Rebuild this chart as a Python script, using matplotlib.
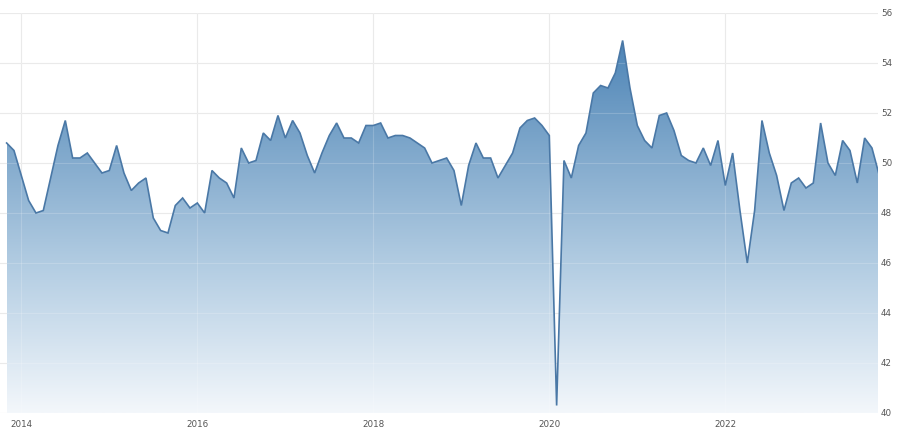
import numpy as np
import matplotlib
matplotlib.use("Agg")
import matplotlib.pyplot as plt
from matplotlib.colors import LinearSegmentedColormap
from matplotlib.patches import PathPatch
from matplotlib.path import Path

# Monthly values, Nov 2013 .. Oct 2023
start_year, start_month = 2013, 11
values = [
    50.8, 50.5,
    49.5, 48.5, 48.0, 48.1, 49.4, 50.7, 51.7, 50.2, 50.2, 50.4, 50.0, 49.6,
    49.7, 50.7, 49.6, 48.9, 49.2, 49.4, 47.8, 47.3, 47.2, 48.3, 48.6, 48.2,
    48.4, 48.0, 49.7, 49.4, 49.2, 48.6, 50.6, 50.0, 50.1, 51.2, 50.9, 51.9,
    51.0, 51.7, 51.2, 50.3, 49.6, 50.4, 51.1, 51.6, 51.0, 51.0, 50.8, 51.5,
    51.5, 51.6, 51.0, 51.1, 51.1, 51.0, 50.8, 50.6, 50.0, 50.1, 50.2, 49.7,
    48.3, 49.9, 50.8, 50.2, 50.2, 49.4, 49.9, 50.4, 51.4, 51.7, 51.8, 51.5,
    51.1, 40.3, 50.1, 49.4, 50.7, 51.2, 52.8, 53.1, 53.0, 53.6, 54.9, 53.0,
    51.5, 50.9, 50.6, 51.9, 52.0, 51.3, 50.3, 50.1, 50.0, 50.6, 49.9, 50.9,
    49.1, 50.4, 48.1, 46.0, 48.1, 51.7, 50.4, 49.5, 48.1, 49.2, 49.4, 49.0,
    49.2, 51.6, 50.0, 49.5, 50.9, 50.5, 49.2, 51.0, 50.6, 49.5,
]
year_ticks = [2014, 2016, 2018, 2020, 2022]
y_ticks = [40, 42, 44, 46, 48, 50, 52, 54, 56]

# months relative to Jan 2014
offset = (start_year - 2014) * 12 + (start_month - 1)
x = np.arange(len(values)) + offset
y = np.array(values)

fig = plt.figure(figsize=(9, 4.32), dpi=100)
W, H = 900, 432
left_px, right_px, top_px, bot_px = 0, 878, 13, 413
ax = fig.add_axes([left_px / W, 1 - bot_px / H, (right_px - left_px) / W, (bot_px - top_px) / H])

px_per_month = 176 / 24.0
x0 = -21.3 / px_per_month
x1 = x0 + (right_px - left_px) / px_per_month
ax.set_xlim(x0, x1)
ax.set_ylim(40, 56)

# gridlines: gray beneath, faint light overlay on the fill
for yt in y_ticks:
    ax.axhline(yt, color="#e6e6e6", lw=0.8, zorder=0)
    ax.axhline(yt, color="#ffffff", lw=0.8, alpha=0.18, zorder=2)
for yr in year_ticks:
    ax.axvline((yr - 2014) * 12, color="#e6e6e6", lw=0.8, zorder=0)
    ax.axvline((yr - 2014) * 12, color="#ffffff", lw=0.8, alpha=0.18, zorder=2)

# gradient fill
cmap = LinearSegmentedColormap.from_list(
    "g", [(0.0, "#f3f7fb"), (0.35, "#b9d1e5"), (0.7, "#7ea7cb"), (1.0, "#4a82b5")]
)
grad = np.linspace(0, 1, 256).reshape(-1, 1)
im = ax.imshow(grad, extent=[x[0], x[-1], 40, 55.2], origin="lower", aspect="auto",
               cmap=cmap, zorder=1)
verts = [(x[0], 40)] + list(zip(x, y)) + [(x[-1], 40), (x[0], 40)]
codes = [Path.MOVETO] + [Path.LINETO] * (len(verts) - 2) + [Path.CLOSEPOLY]
patch = PathPatch(Path(verts, codes), facecolor="none", edgecolor="none")
ax.add_patch(patch)
im.set_clip_path(patch)

ax.plot(x, y, color="#4a78a6", lw=1.2, zorder=3, solid_joinstyle="miter")

for s in ax.spines.values():
    s.set_visible(False)
ax.set_xticks([(yr - 2014) * 12 for yr in year_ticks])
ax.set_xticklabels([str(yr) for yr in year_ticks])
ax.set_yticks(y_ticks)
ax.set_yticklabels([str(v) for v in y_ticks])
ax.yaxis.tick_right()
ax.tick_params(axis="both", length=0, labelsize=6.3, labelcolor="#555555")
ax.tick_params(axis="x", pad=5)
ax.tick_params(axis="y", pad=2)
ax.set_xlim(x0, x1)

fig.savefig("out.png", dpi=100)
